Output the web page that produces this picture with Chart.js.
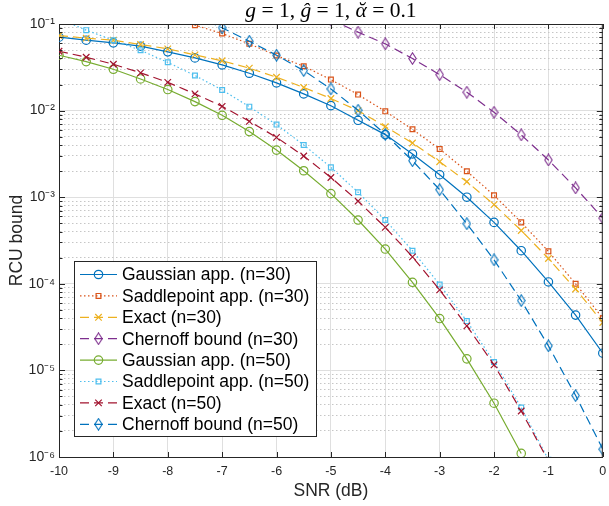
<!DOCTYPE html>
<html>
<head>
<meta charset="utf-8">
<script src="https://cdn.jsdelivr.net/npm/chart.js@4.4.1/dist/chart.umd.min.js"></script>
<style>
  html, body { margin: 0; padding: 0; background: #fff; }
</style>
</head>
<body>
<canvas id="rcuChart" width="609" height="506"></canvas>
<script>
// SNR grid (dB)
const snr = [-10, -9.5, -9, -8.5, -8, -7.5, -7, -6.5, -6, -5.5, -5, -4.5, -4, -3.5, -3, -2.5, -2, -1.5, -1, -0.5, 0];

// n = 30
const gauss30  = [0.0705, 0.065, 0.0606, 0.0554, 0.0477, 0.0406, 0.0337, 0.027, 0.0209, 0.0156, 0.0114, 0.00773, 0.00528, 0.00316, 0.00182, 0.001, 5.12e-4, 2.41e-4, 1.05e-4, 4.35e-5, 1.58e-5];
const saddle30 = [null, null, null, null, 0.122, 0.097, 0.0776, 0.059, 0.0432, 0.0325, 0.0228, 0.0153, 0.0098, 0.00608, 0.0036, 0.00199, 0.00105, 5.12e-4, 2.37e-4, 1.0e-4, 4.0e-5];
const exact30  = [0.0736, 0.0686, 0.065, 0.058, 0.0517, 0.044, 0.0376, 0.0309, 0.0243, 0.0185, 0.0138, 0.01, 0.00653, 0.00423, 0.00257, 0.00151, 8.2e-4, 4.13e-4, 1.96e-4, 8.7e-5, 3.57e-5];
const chern30  = [null, null, null, null, null, null, null, null, null, null, 0.112, 0.0805, 0.059, 0.0399, 0.026, 0.0163, 0.00957, 0.00524, 0.00269, 0.00128, 5.74e-4];

// n = 50
const gauss50  = [0.0436, 0.0368, 0.030, 0.0232, 0.0175, 0.0127, 0.00883, 0.00572, 0.0035, 0.00202, 0.0011, 5.45e-4, 2.52e-4, 1.04e-4, 3.97e-5, 1.36e-5, 4.18e-6, 1.1e-6, null, null, null];
const saddle50 = [0.115, 0.0849, 0.065, 0.0497, 0.0361, 0.0254, 0.0173, 0.0111, 0.00689, 0.00401, 0.00221, 0.00114, 5.45e-4, 2.41e-4, 9.8e-5, 3.71e-5, 1.25e-5, 3.72e-6, 9.3e-7, null, null];
const exact50  = [0.0485, 0.0413, 0.0343, 0.0273, 0.0212, 0.0156, 0.0112, 0.00752, 0.00491, 0.00299, 0.00169, 9.0e-4, 4.48e-4, 2.05e-4, 8.5e-5, 3.27e-5, 1.16e-5, 3.4e-6, 9.0e-7, null, null];
const chern50  = [null, null, null, null, null, 0.125, 0.0904, 0.0633, 0.0436, 0.029, 0.0178, 0.0101, 0.00532, 0.00264, 0.00122, 4.94e-4, 1.89e-4, 6.4e-5, 1.92e-5, 5.12e-6, 1.23e-6];

const seriesLabels = [
  'Gaussian app. (n=30)', 'Saddlepoint app. (n=30)', 'Exact (n=30)', 'Chernoff bound (n=30)',
  'Gaussian app. (n=50)', 'Saddlepoint app. (n=50)', 'Exact (n=50)', 'Chernoff bound (n=50)'
];

// axis ticks
const xTicks = [-10, -9, -8, -7, -6, -5, -4, -3, -2, -1, 0];
const yDecades = [-6, -5, -4, -3, -2, -1];
const yDecadeLabels = ['10⁻⁶', '10⁻⁵', '10⁻⁴', '10⁻³', '10⁻²', '10⁻¹'];

const FONT = "'Liberation Sans', Arial, sans-serif";
const AXIS = '#262626';

// tall MATLAB-like diamond marker
const diamond = (color) => {
  const c = document.createElement('canvas');
  c.width = 9; c.height = 13;
  const g = c.getContext('2d');
  g.strokeStyle = color; g.lineWidth = 1.1;
  g.beginPath();
  g.moveTo(4.5, 0.8); g.lineTo(8.2, 6.5); g.lineTo(4.5, 12.2); g.lineTo(0.8, 6.5);
  g.closePath(); g.stroke();
  return c;
};

const styles = [
  { color: '#0072BD', dash: [],        point: 'circle',   r: 4.2 },
  { color: '#D95319', dash: [1.5, 2.5], point: 'rect',     r: 3.4 },
  { color: '#EDB120', dash: [9, 5],    point: 'crossRot', r: 4.6 },
  { color: '#7E2F8E', dash: [9, 5],    point: 'diamond',  r: 5 },
  { color: '#77AC30', dash: [],        point: 'circle',   r: 4.2 },
  { color: '#4DBEEE', dash: [1.5, 2.5], point: 'rect',     r: 3.4 },
  { color: '#A2142F', dash: [9, 5],    point: 'crossRot', r: 4.6 },
  { color: '#0072BD', dash: [9, 5],    point: 'diamond',  r: 5 }
];

const seriesValues = [gauss30, saddle30, exact30, chern30, gauss50, saddle50, exact50, chern50];

const datasets = seriesValues.map((vals, i) => {
  const s = styles[i];
  return {
    label: seriesLabels[i],
    data: snr.map((x, k) => ({ x: x, y: vals[k] })),
    borderColor: s.color,
    borderWidth: 1.2,
    borderDash: s.dash,
    pointStyle: s.point === 'diamond' ? diamond(s.color) : s.point,
    pointRadius: s.r,
    pointBorderColor: s.color,
    pointBackgroundColor: 'rgba(0,0,0,0)',
    pointBorderWidth: 1.2,
    tension: 0,
    spanGaps: false,
    order: seriesValues.length - i
  };
});

const isDecade = (v) => Math.abs(Math.log10(v) - Math.round(Math.log10(v))) < 1e-9;

// title with italic symbols
const titlePlugin = {
  id: 'mathTitle',
  afterDraw(chart) {
    const ctx = chart.ctx;
    const parts = [['g', true], [' = 1, ', false], ['ĝ', true], [' = 1, ', false], ['α\u0306', true], [' = 0.1', false]];
    const size = 21.5;
    const fontOf = (it) => (it ? 'italic ' : '') + size + "px 'Liberation Serif', 'Times New Roman', serif";
    ctx.save();
    ctx.fillStyle = '#000';
    ctx.textBaseline = 'alphabetic';
    let total = 0;
    parts.forEach(p => { ctx.font = fontOf(p[1]); total += ctx.measureText(p[0]).width; });
    const { left, right } = chart.chartArea;
    let x = (left + right) / 2 - total / 2;
    parts.forEach(p => {
      ctx.font = fontOf(p[1]);
      ctx.fillText(p[0], x, 17);
      x += ctx.measureText(p[0]).width;
    });
    ctx.restore();
  }
};

// box around the axes and inward tick marks
const boxPlugin = {
  id: 'axesBox',
  afterDatasetsDraw(chart) {
    const ctx = chart.ctx;
    const { left, right, top, bottom } = chart.chartArea;
    const xs = chart.scales.x, ys = chart.scales.y;
    ctx.save();
    ctx.strokeStyle = AXIS;
    ctx.lineWidth = 1;
    ctx.beginPath();
    ctx.moveTo(left, top + 0.5); ctx.lineTo(right, top + 0.5);
    ctx.moveTo(right - 0.5, top); ctx.lineTo(right - 0.5, bottom);
    xs.ticks.forEach(t => {
      const px = Math.round(xs.getPixelForValue(t.value)) + 0.5;
      ctx.moveTo(px, bottom); ctx.lineTo(px, bottom - 5);
      ctx.moveTo(px, top); ctx.lineTo(px, top + 5);
    });
    ys.ticks.forEach(t => {
      const py = Math.round(ys.getPixelForValue(t.value)) + 0.5;
      const len = isDecade(t.value) ? 6 : 3.5;
      ctx.moveTo(left, py); ctx.lineTo(left + len, py);
      ctx.moveTo(right, py); ctx.lineTo(right - len, py);
    });
    ctx.stroke();
    ctx.restore();
  }
};

// legend inside the axes, bottom-left
const legendPlugin = {
  id: 'insideLegend',
  afterDatasetsDraw(chart) {
    const ctx = chart.ctx;
    const box = { x: 74.5, y: 261.5, w: 242, h: 175 };
    ctx.save();
    ctx.fillStyle = '#fff';
    ctx.fillRect(box.x, box.y, box.w, box.h);
    ctx.strokeStyle = AXIS;
    ctx.lineWidth = 1;
    ctx.strokeRect(box.x, box.y, box.w, box.h);
    chart.data.datasets.forEach((ds, i) => {
      const y = 274.5 + i * 21.4;
      ctx.strokeStyle = ds.borderColor;
      ctx.lineWidth = ds.borderWidth;
      ctx.setLineDash(ds.borderDash);
      ctx.beginPath();
      ctx.moveTo(80, y); ctx.lineTo(117, y);
      ctx.stroke();
      ctx.setLineDash([]);
      ctx.fillStyle = 'rgba(0,0,0,0)';
      Chart.helpers.drawPoint(ctx, {
        pointStyle: ds.pointStyle, radius: ds.pointRadius, rotation: 0, borderWidth: ds.pointBorderWidth
      }, 98.5, y);
      ctx.fillStyle = '#000';
      ctx.font = '17.5px ' + FONT;
      ctx.textBaseline = 'middle';
      ctx.fillText(ds.label, 122, y + 1);
    });
    ctx.restore();
  }
};

new Chart(document.getElementById('rcuChart'), {
  type: 'line',
  data: { datasets: datasets },
  options: {
    responsive: false,
    animation: false,
    devicePixelRatio: 1,
    layout: { padding: { top: 24, right: 0, left: 0, bottom: 0 } },
    plugins: { legend: { display: false }, tooltip: { enabled: false }, title: { display: false } },
    scales: {
      x: {
        type: 'linear',
        min: -10,
        max: 0,
        afterBuildTicks: (scale) => { scale.ticks = xTicks.map(v => ({ value: v })); },
        afterFit: (scale) => { scale.height = 49; scale.paddingLeft = 0; scale.paddingRight = 0; },
        ticks: { color: AXIS, font: { family: FONT, size: 12.5 }, padding: 7, maxRotation: 0, autoSkip: false },
        grid: { color: '#dfdfdf', lineWidth: 1, drawTicks: false },
        border: { display: true, color: AXIS, width: 1 },
        title: { display: true, text: 'SNR (dB)', color: AXIS, font: { family: FONT, size: 17.5 }, padding: { top: 0, bottom: 4.5 } }
      },
      y: {
        type: 'logarithmic',
        min: 1e-6,
        max: 0.1,
        afterBuildTicks: (scale) => {
          const ticks = [];
          yDecades.forEach(e => {
            for (let k = 1; k <= 9; k++) {
              const v = Number((k * Math.pow(10, e)).toPrecision(3));
              if (v <= 0.1 + 1e-12) ticks.push({ value: v, major: k === 1 });
            }
          });
          scale.ticks = ticks;
        },
        afterFit: (scale) => { scale.width = 59; scale.paddingTop = 0; scale.paddingBottom = 0; },
        ticks: {
          color: AXIS,
          font: { family: FONT, size: 14 },
          padding: 4,
          autoSkip: false,
          callback: (v) => {
            if (!isDecade(v)) return '';
            const idx = yDecades.indexOf(Math.round(Math.log10(v)));
            return idx >= 0 ? yDecadeLabels[idx] : '';
          }
        },
        grid: {
          color: (c) => (c.tick && !isDecade(c.tick.value) ? '#c6c6c6' : '#dfdfdf'),
          lineWidth: 1,
          drawTicks: false
        },
        border: {
          display: true, color: AXIS, width: 1,
          dash: (c) => (c.tick && !isDecade(c.tick.value) ? [1.5, 2.5] : [])
        },
        title: { display: true, text: 'RCU bound', color: AXIS, font: { family: FONT, size: 17.5 }, padding: { top: 7, bottom: 0 } }
      }
    }
  },
  plugins: [titlePlugin, boxPlugin, legendPlugin]
});
</script>
</body>
</html>
